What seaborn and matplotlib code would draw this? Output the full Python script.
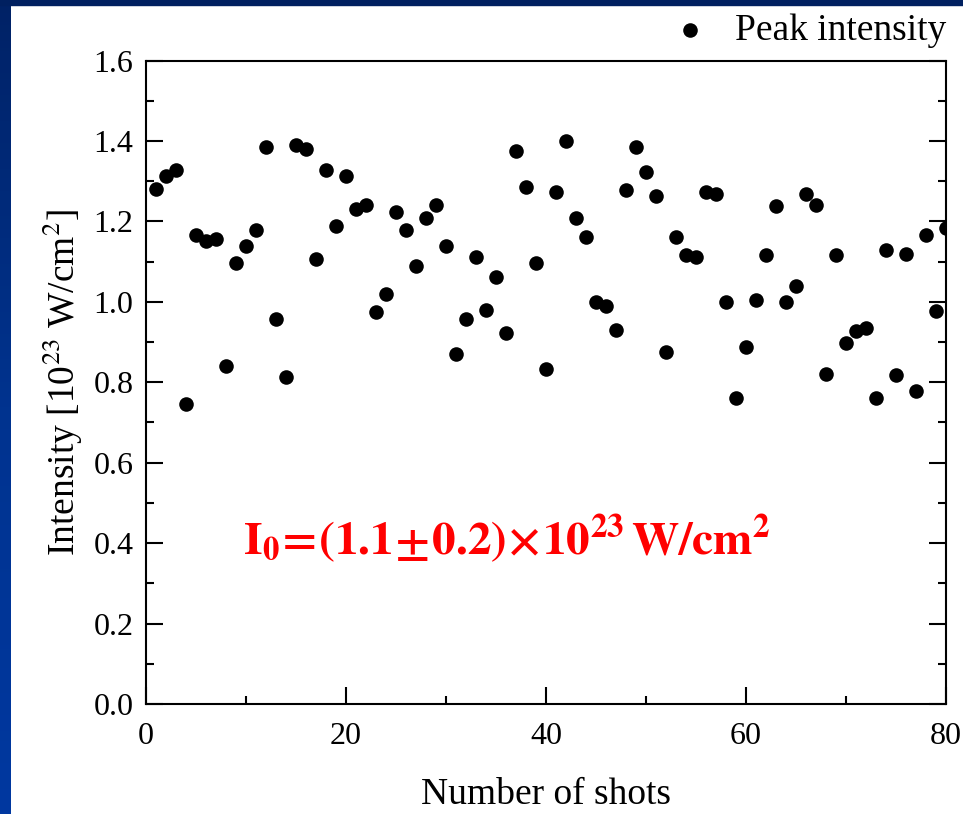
import numpy as np
import pandas as pd
import matplotlib
matplotlib.use("Agg")
import matplotlib.pyplot as plt
import seaborn as sns
from matplotlib.patches import Rectangle
from matplotlib.colors import LinearSegmentedColormap
from matplotlib.ticker import MultipleLocator, FormatStrFormatter

# Shot index and measured peak intensity (units of 1e23 W/cm^2)
shots = list(range(1, 81))
intensity = [
    1.281, 1.312, 1.327, 0.747, 1.165, 1.151, 1.157, 0.841, 1.097, 1.138,
    1.179, 1.385, 0.957, 0.812, 1.390, 1.380, 1.106, 1.327, 1.188, 1.313,
    1.232, 1.241, 0.975, 1.020, 1.223, 1.179, 1.089, 1.209, 1.241, 1.138,
    0.869, 0.957, 1.111, 0.980, 1.062, 0.922, 1.376, 1.286, 1.097, 0.833,
    1.273, 1.399, 1.209, 1.161, 0.999, 0.989, 0.931, 1.277, 1.385, 1.323,
    1.263, 0.875, 1.161, 1.116, 1.111, 1.273, 1.268, 0.999, 0.761, 0.887,
    1.004, 1.116, 1.237, 0.999, 1.039, 1.269, 1.241, 0.821, 1.116, 0.898,
    0.927, 0.935, 0.762, 1.128, 0.817, 1.120, 0.778, 1.165, 0.976, 1.183,
]
x_major = [0, 20, 40, 60, 80]
y_major = [0.0, 0.2, 0.4, 0.6, 0.8, 1.0, 1.2, 1.4, 1.6]

df = pd.DataFrame({"shot": shots, "intensity": intensity})

sns.set_style("ticks")
plt.rcParams["font.family"] = ["Liberation Serif", "DejaVu Serif"]
plt.rcParams["mathtext.fontset"] = "stix"
plt.rcParams["text.color"] = "black"
plt.rcParams["axes.labelcolor"] = "black"
plt.rcParams["xtick.color"] = "black"
plt.rcParams["ytick.color"] = "black"

W, H = 963, 814
fig = plt.figure(figsize=(W / 100, H / 100), dpi=100)
fig.patch.set_facecolor("white")

# slide frame: navy strip on top, blue gradient strip on the left
fig.patches.append(Rectangle((0, 1 - 5 / H), 1, 5 / H, transform=fig.transFigure,
                             color="#002060", zorder=0))
bax = fig.add_axes([0, 0, 10 / W, 1])
grad = LinearSegmentedColormap.from_list("frame", ["#002266", "#00338f", "#0038a0"])
bax.imshow(np.linspace(0, 1, 256)[:, None], aspect="auto", cmap=grad)
bax.set_axis_off()

ax = fig.add_axes([146 / W, 1 - 704 / H, 800 / W, 643.5 / H])
sns.scatterplot(data=df, x="shot", y="intensity", ax=ax, color="black",
                s=110, linewidth=0, label="Peak intensity")

ax.set_xlim(0, 80)
ax.set_ylim(0, 1.6)
ax.set_xticks(x_major)
ax.set_yticks(y_major)
ax.xaxis.set_minor_locator(MultipleLocator(10))
ax.yaxis.set_minor_locator(MultipleLocator(0.1))
ax.yaxis.set_major_formatter(FormatStrFormatter("%.1f"))

for sp in ax.spines.values():
    sp.set_visible(True)
    sp.set_linewidth(1.5)
    sp.set_color("black")

ax.tick_params(which="both", direction="in", width=1.5, colors="black",
               labelsize=23, top=False, right=True, left=True, bottom=True,
               labelright=False)
ax.tick_params(axis="x", which="both", pad=13)
ax.tick_params(axis="y", which="both", pad=9)
ax.tick_params(which="major", length=12)
ax.tick_params(which="minor", length=6)

ax.set_xlabel("Number of shots", fontsize=27, labelpad=19)
ax.set_ylabel(r"Intensity [10$^{23}$ W/cm$^{2}$]", fontsize=27, labelpad=6)

ax.legend(loc="center right", bbox_to_anchor=(1.0, 1.047), frameon=False,
          fontsize=27, borderpad=0, borderaxespad=0, handlelength=1.0,
          handletextpad=0.7, markerscale=1.0)

ax.text(9.7, 0.41,
        r"$\mathbf{I_0\!=\!(1.1\!\pm\!0.2)\!\times\!10^{23}\,W/cm^2}$",
        color="#ff0000", fontsize=34, ha="left", va="center")

fig.savefig("out.png", dpi=100)
